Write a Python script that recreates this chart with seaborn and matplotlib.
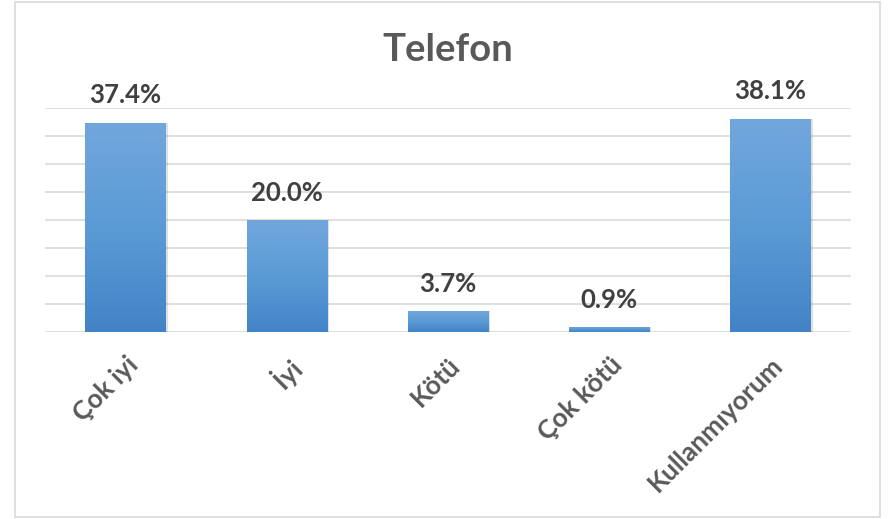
import numpy as np
import pandas as pd
import matplotlib
matplotlib.use("Agg")
import matplotlib.pyplot as plt
import seaborn as sns
from matplotlib.colors import LinearSegmentedColormap
from matplotlib.patches import Rectangle

categories = ["Çok iyi", "İyi", "Kötü", "Çok kötü", "Kullanmıyorum"]
values = [37.4, 20.0, 3.7, 0.9, 38.1]
value_labels = ["37.4%", "20.0%", "3.7%", "0.9%", "38.1%"]
title = "Telefon"

sns.set_theme(style="white")
plt.rcParams['font.family'] = ['Lato', 'DejaVu Sans']

fig = plt.figure(figsize=(8.96, 5.19), dpi=100)
ax = fig.add_axes([45/896, 1-332/519, (851-45)/896, (332-108)/519])

df = pd.DataFrame({"cat": categories, "val": values})
sns.barplot(data=df, x="cat", y="val", color="#5b9bd5", width=0.5, ax=ax, zorder=3)

ax.set_ylim(0, 40)
ax.set_xlim(-0.5, 4.5)
ax.set_yticks(np.arange(0, 41, 5))
ax.yaxis.grid(True, color="#d9d9d9", linewidth=1.2, zorder=0)
ax.set_axisbelow(True)
for s in ax.spines.values():
    s.set_visible(False)
ax.tick_params(axis="y", left=False, labelleft=False)
ax.tick_params(axis="x", bottom=False, pad=9)
ax.set_xlabel("")
ax.set_ylabel("")

cmap = LinearSegmentedColormap.from_list("g", ["#4283c7", "#5b9bd5", "#72a7dd"])
grad = np.linspace(0, 1, 256).reshape(-1, 1)
for p in list(ax.patches):
    x0, y0 = p.get_x(), p.get_y()
    w, h = p.get_width(), p.get_height()
    sh = Rectangle((x0 + 0.012, y0), w, h, facecolor="#000000", alpha=0.12,
                   edgecolor="none", zorder=2)
    ax.add_patch(sh)
    im = ax.imshow(grad, extent=[x0, x0 + w, y0, y0 + h], origin="lower",
                   cmap=cmap, aspect="auto", zorder=4)
    im.set_clip_path(p)
    p.set_edgecolor("none")

for i, (v, lab) in enumerate(zip(values, value_labels)):
    ax.annotate(lab, (i, v), xytext=(0, 11), textcoords="offset points",
                ha="center", va="bottom", fontsize=18.5, fontweight="bold",
                color="#404040")

ax.set_xticks(range(len(categories)))
ax.set_xticklabels(categories, rotation=45, ha="right", rotation_mode="anchor",
                   fontsize=19, fontweight="bold", color="#595959")

fig.text(448/896, 1-50/519, title, ha="center", va="center", fontsize=27.5,
         fontweight="bold", color="#595959")

border = Rectangle((15/896, 2/519), (880-15)/896, (517-2)/519,
                   transform=fig.transFigure, fill=False, edgecolor="#d9d9d9",
                   linewidth=1.2)
fig.patches.append(border)

fig.savefig("out.png", dpi=100)
